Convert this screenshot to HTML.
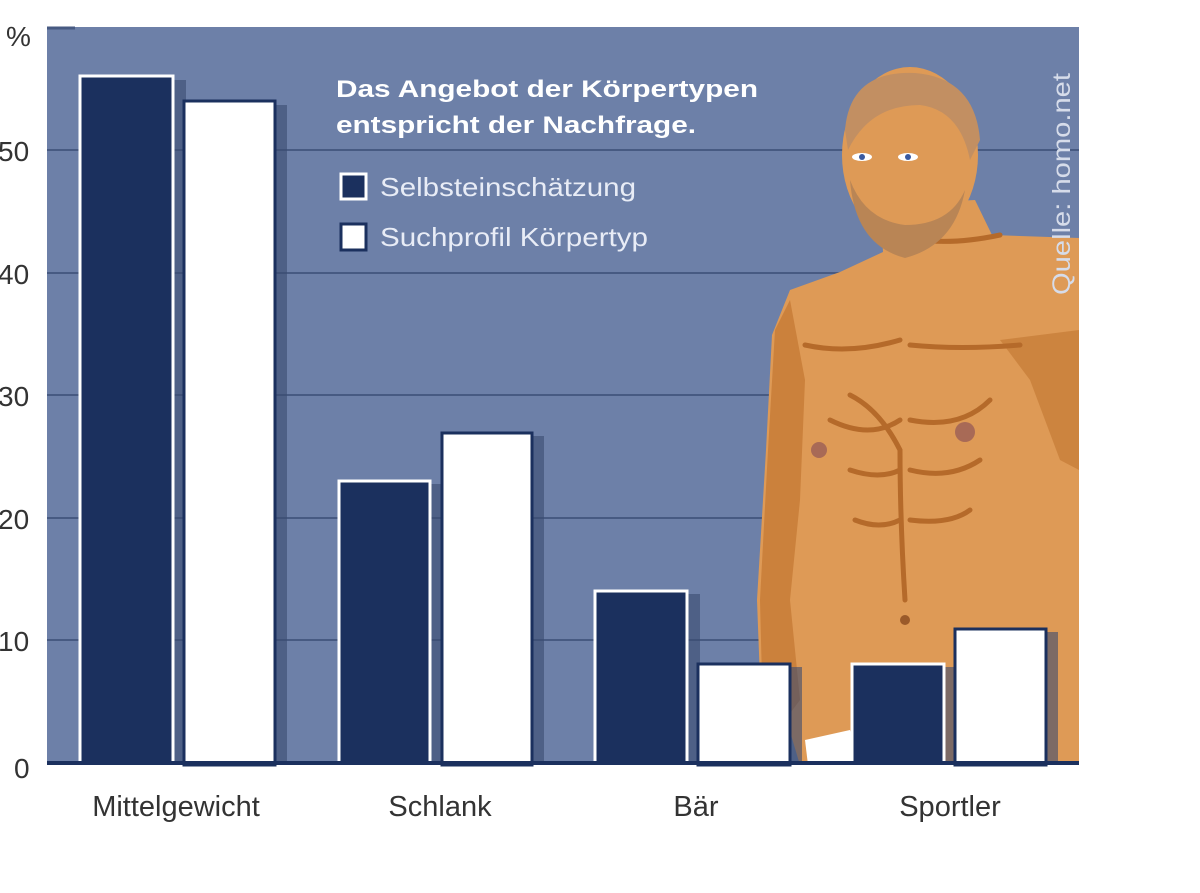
<!DOCTYPE html>
<html><head><meta charset="utf-8"><style>
html,body{margin:0;padding:0;background:#fff;}
svg{display:block;}
text{font-family:"Liberation Sans",sans-serif;}
</style></head><body>
<svg width="1200" height="893" viewBox="0 0 1200 893" xmlns="http://www.w3.org/2000/svg">
<rect width="1200" height="893" fill="#fff"/>
<rect x="47" y="27" width="1032" height="738" fill="#6d80a8"/>
<g stroke="#475a82" stroke-width="2">
<line x1="47" y1="150" x2="1079" y2="150"/>
<line x1="47" y1="273" x2="1079" y2="273"/>
<line x1="47" y1="395" x2="1079" y2="395"/>
<line x1="47" y1="518" x2="1079" y2="518"/>
<line x1="47" y1="640" x2="1079" y2="640"/>
</g>
<line x1="47" y1="28" x2="75" y2="28" stroke="#475a82" stroke-width="3"/>
<!-- man -->
<g>
<path d="M880 205 L975 200 L992 235 L1079 238 L1079 765 L800 765 L788 725 L760 680 L757 600 L766 450 L772 335 L790 290 L840 272 L883 252 Z" fill="#de9a56"/>
<path d="M790 300 L775 330 L768 450 L760 600 L762 680 L785 720 L800 700 L790 600 L800 500 L805 380 Z" fill="#c57a36" opacity="0.8"/>
<path d="M1000 340 L1030 380 L1060 460 L1079 470 L1079 330 Z" fill="#c57a36" opacity="0.7"/>
<g fill="none" stroke="#b56a2a" stroke-width="5" stroke-linecap="round">
<path d="M805 345 Q850 355 900 340"/>
<path d="M910 345 Q960 350 1020 345"/>
<path d="M850 395 Q880 410 900 450 Q900 520 905 600"/>
<path d="M830 420 Q870 440 900 420"/>
<path d="M910 420 Q960 430 990 400"/>
<path d="M850 470 Q880 480 900 470"/>
<path d="M910 470 Q950 480 980 460"/>
<path d="M855 520 Q880 530 900 520"/>
<path d="M910 520 Q950 525 970 510"/>
<path d="M880 230 Q930 250 1000 235"/>
</g>
<circle cx="819" cy="450" r="8" fill="#a86a56"/>
<circle cx="965" cy="432" r="10" fill="#a86a56"/>
<circle cx="905" cy="620" r="5" fill="#9a5a2a"/>
<path d="M805 740 L850 730 L860 765 L808 765 Z" fill="#fff"/>
<ellipse cx="910" cy="155" rx="68" ry="88" fill="#de9a56"/>
<path d="M845 130 Q850 70 915 73 Q975 78 980 140 L970 160 Q960 110 920 105 Q870 105 848 150 Z" fill="#c28f62"/>
<path d="M850 180 Q855 245 905 258 Q955 245 965 190 Q950 225 905 225 Q865 220 850 180 Z" fill="#b98555"/>
<ellipse cx="862" cy="157" rx="10" ry="4" fill="#fff"/>
<ellipse cx="908" cy="157" rx="10" ry="4" fill="#fff"/>
<circle cx="862" cy="157" r="3" fill="#3a5aa0"/>
<circle cx="908" cy="157" r="3" fill="#3a5aa0"/>
</g>
<!-- bars: shadows -->
<g fill="#3b4b70" opacity="0.6">
<rect x="174" y="80" width="12" height="683"/>
<rect x="275" y="105" width="12" height="658"/>
<rect x="430" y="484" width="12" height="279"/>
<rect x="532" y="436" width="12" height="327"/>
<rect x="688" y="594" width="12" height="169"/>
<rect x="790" y="667" width="12" height="96"/>
<rect x="944" y="667" width="12" height="96"/>
<rect x="1046" y="632" width="12" height="131"/>
</g>
<g stroke-width="3">
<rect x="80" y="76" width="93" height="689" fill="#1b305e" stroke="#fff"/>
<rect x="184" y="101" width="91" height="664" fill="#fff" stroke="#1b305e"/>
<rect x="339" y="481" width="91" height="284" fill="#1b305e" stroke="#fff"/>
<rect x="442" y="433" width="90" height="332" fill="#fff" stroke="#1b305e"/>
<rect x="595" y="591" width="92" height="174" fill="#1b305e" stroke="#fff"/>
<rect x="698" y="664" width="92" height="101" fill="#fff" stroke="#1b305e"/>
<rect x="852" y="664" width="92" height="101" fill="#1b305e" stroke="#fff"/>
<rect x="955" y="629" width="91" height="136" fill="#fff" stroke="#1b305e"/>
</g>
<rect x="47" y="761" width="1032" height="4" fill="#1b305e"/>
<!-- legend -->
<text x="336" y="97" font-size="24" font-weight="bold" fill="#fff" textLength="422" lengthAdjust="spacingAndGlyphs">Das Angebot der Körpertypen</text>
<text x="336" y="133" font-size="24" font-weight="bold" fill="#fff" textLength="360" lengthAdjust="spacingAndGlyphs">entspricht der Nachfrage.</text>
<rect x="341" y="174" width="25" height="25" fill="#1b305e" stroke="#fff" stroke-width="3"/>
<rect x="341" y="224" width="25" height="26" fill="#fff" stroke="#1b305e" stroke-width="3"/>
<text x="380" y="196" font-size="26" fill="#e8ecf6" textLength="256" lengthAdjust="spacingAndGlyphs">Selbsteinschätzung</text>
<text x="380" y="246" font-size="26" fill="#e8ecf6" textLength="268" lengthAdjust="spacingAndGlyphs">Suchprofil Körpertyp</text>
<text transform="translate(1070,295) rotate(-90)" font-size="25" fill="#d6dcea" textLength="222" lengthAdjust="spacingAndGlyphs">Quelle: homo.net</text>
<!-- y ticks -->
<g font-size="28" fill="#333">
<text x="6" y="46">%</text>
<text x="-2" y="161">50</text>
<text x="-2" y="284">40</text>
<text x="-2" y="406">30</text>
<text x="-2" y="529">20</text>
<text x="-2" y="651">10</text>
<text x="14" y="778">0</text>
</g>
<g font-size="29" fill="#333" text-anchor="middle">
<text x="176" y="816">Mittelgewicht</text>
<text x="440" y="816">Schlank</text>
<text x="696" y="816">Bär</text>
<text x="950" y="816">Sportler</text>
</g>
</svg>
</body></html>
